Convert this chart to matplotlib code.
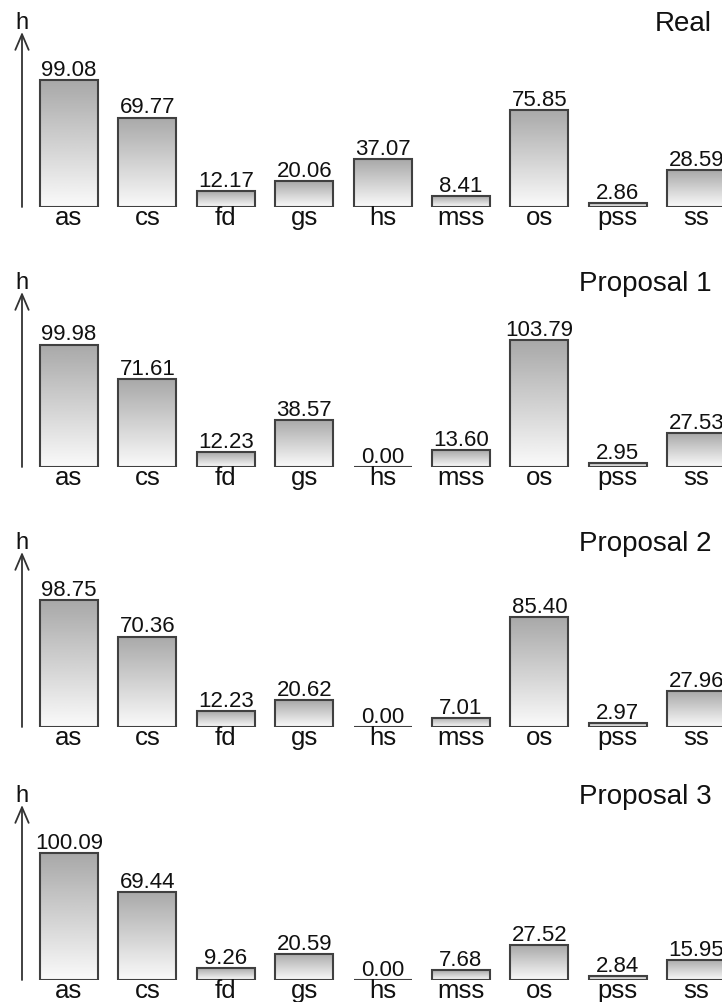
import numpy as np
import matplotlib
matplotlib.use("Agg")
import matplotlib.pyplot as plt

plt.rcParams['font.family'] = ['Liberation Sans', 'DejaVu Sans']

categories = ["as", "cs", "fd", "gs", "hs", "mss", "os", "pss", "ss"]
titles = ["Real", "Proposal 1", "Proposal 2", "Proposal 3"]

real = [99.08, 69.77, 12.17, 20.06, 37.07, 8.41, 75.85, 2.86, 28.59]
proposal_1 = [99.98, 71.61, 12.23, 38.57, 0.00, 13.60, 103.79, 2.95, 27.53]
proposal_2 = [98.75, 70.36, 12.23, 20.62, 0.00, 7.01, 85.40, 2.97, 27.96]
proposal_3 = [100.09, 69.44, 9.26, 20.59, 0.00, 7.68, 27.52, 2.84, 15.95]

panels = [real, proposal_1, proposal_2, proposal_3]

# layout in pixels (figure is 722 x 1002)
W, H = 722, 1002
baselines = [207, 467, 727, 980]
ax_h = 200          # axes height in px above baseline
max_bar_px = 127    # tallest bar in each panel
x0_px, pitch_px = 69, 78.4
bar_w = 0.74

fig = plt.figure(figsize=(W / 100, H / 100), dpi=100)

# vertical fill: light at the bottom, grey at the top
grad = np.linspace(0.98, 0.66, 256).reshape(-1, 1)

for vals, title, base in zip(panels, titles, baselines):
    ax = fig.add_axes([0, 1 - base / H, 1, ax_h / H])
    ax.set_axis_off()
    x = np.arange(len(categories))
    ymax = max(vals) * ax_h / max_bar_px
    xlim = (-x0_px / pitch_px, (W - x0_px) / pitch_px)

    bars = ax.bar(x, vals, width=bar_w, facecolor="none", edgecolor="#404040",
                  linewidth=1.5, zorder=3)
    for b, v in zip(bars, vals):
        if v > 0:
            ax.imshow(grad, cmap="gray", vmin=0, vmax=1, aspect="auto",
                      origin="lower", interpolation="bilinear",
                      extent=(b.get_x(), b.get_x() + b.get_width(), 0, v), zorder=2)
        ax.annotate(f"{v:.2f}", xy=(b.get_x() + b.get_width() / 2, v),
                    xytext=(0, 3), textcoords="offset points", ha="center",
                    va="baseline", fontsize=16, color="#111111")
    ax.set_xlim(*xlim)
    ax.set_ylim(0, ymax)

    for xi, c in zip(x, categories):
        ax.annotate(c, xy=(xi, 0), xytext=(0, -13), textcoords="offset points",
                    ha="center", va="baseline", fontsize=18.5, color="#111111",
                    annotation_clip=False)

    # vertical h axis with arrow
    ax_x = (22 - x0_px) / pitch_px
    ax.annotate("", xy=(ax_x, 175 / ax_h * ymax), xytext=(ax_x, 0),
                arrowprops=dict(arrowstyle="->,head_length=0.7,head_width=0.3",
                                color="#333333", lw=1.3,
                                mutation_scale=16, shrinkA=0, shrinkB=0),
                annotation_clip=False)
    ax.text(ax_x, 178 / ax_h * ymax, "h", ha="center", va="baseline",
            fontsize=17, color="#111111")
    ax.text((712 - x0_px) / pitch_px, 183 / ax_h * ymax, title,
            ha="right", va="center", fontsize=20, color="#111111")

fig.savefig("out.png", dpi=100)
